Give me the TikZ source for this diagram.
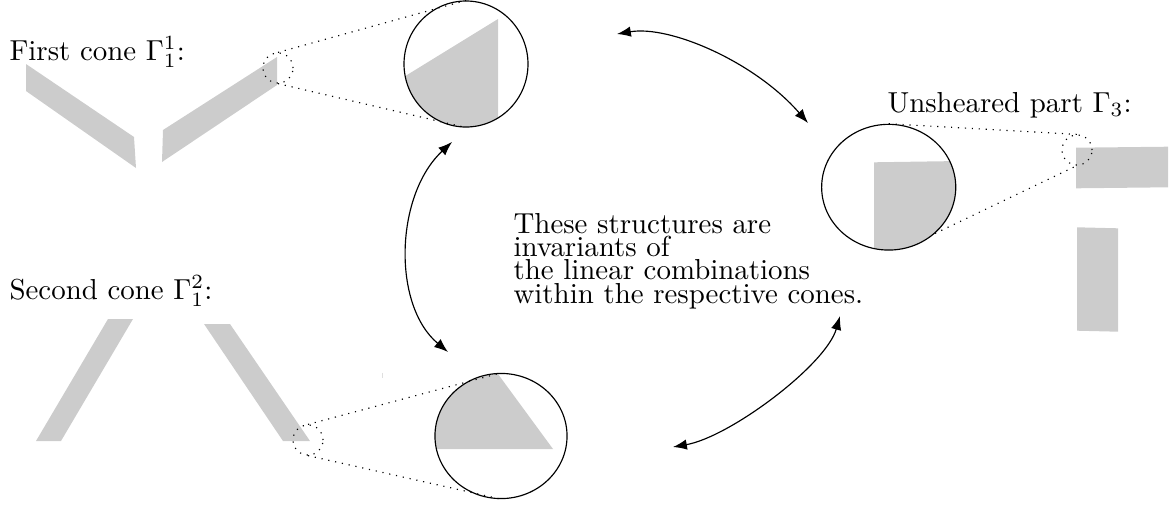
\documentclass[tikz,border=0pt]{standalone}
\usetikzlibrary{arrows.meta,shapes.geometric}
\begin{document}
\begin{tikzpicture}[x=0.346pt,y=-0.346pt,
  shade/.style={fill=gray!40,draw=none},
  lens/.style={draw,ellipse,inner sep=0pt},
  spot/.style={draw,circle,dotted,inner sep=0pt,minimum size=10.4pt},
  guide/.style={dotted},
  link/.style={{Latex}-{Latex}},
  lbl/.style={inner sep=0pt,font=\fontsize{10}{12}\selectfont}]
\useasboundingbox (0,0) rectangle (1172,504);

% ---- first cone ----
\fill[shade] (26,64) -- (134,137) -- (136,168) -- (26,91) -- cycle;
\fill[shade] (163,130) -- (277,57) -- (277,85) -- (162,162) -- cycle;
% ---- second cone ----
\fill[shade] (108,319) -- (133,319) -- (61,441) -- (36,441) -- cycle;
\fill[shade] (204,324) -- (230,324) -- (310,441) -- (283,441) -- cycle;
% ---- unsheared part ----
\fill[shade] (1076,147.7) -- (1168,146.7) -- (1168,187.3) -- (1076,188.3) -- cycle;
\fill[shade] (1077,227.3) -- (1118,228.3) -- (1118,331.7) -- (1077,330.7) -- cycle;
\draw[gray!25,line width=0.5pt] (382.7,372.7) -- (382.7,378.3);

% ---- magnified contents ----
\begin{scope}
  \clip (466,64) ellipse [x radius=62, y radius=63];
  \fill[shade] (498,19) -- (498,140) -- (380,140) -- (380,91.6) -- cycle;
\end{scope}
\begin{scope}
  \clip (501,436) ellipse [x radius=66, y radius=62.5];
  \fill[shade] (420,360) -- (487.7,360) -- (553,449) -- (420,449) -- cycle;
\end{scope}
\begin{scope}
  \clip (888.7,187.2) ellipse [x radius=67, y radius=62.8];
  \fill[shade] (874,162.3) -- (960,161) -- (960,260) -- (874,260) -- cycle;
\end{scope}

% ---- lenses ----
\node[lens,minimum width=42.9pt,minimum height=43.6pt] (z1) at (466,64) {};
\node[lens,minimum width=45.7pt,minimum height=43.3pt] (z2) at (501,436) {};
\node[lens,minimum width=46.4pt,minimum height=43.5pt] (z3) at (888.7,187.2) {};

\node[spot] (s1) at (278,68) {};
\node[spot] (s2) at (308,440) {};
\node[spot] (s3) at (1077,150) {};

\draw[guide] (s1.north) -- (z1.north);
\draw[guide] (s1.south) -- (z1.south);
\draw[guide] (s2.north) -- (z2.north);
\draw[guide] (s2.south) -- (z2.south);
\draw[guide] (z3.north) -- (s3.north);
\draw[guide] (z3.-45) -- (s3.south);

% ---- labels ----
\node[lbl,anchor=base west] (t1) at (9,60) {First cone $\Gamma_1^1$:};
\node[lbl,anchor=base west] (t2) at (9,299) {Second cone $\Gamma_1^2$:};
\node[lbl,anchor=base west] (t3) at (887,112) {Unsheared part $\Gamma_3$:};
\node[lbl,anchor=north west,align=left,font=\fontsize{10}{8}\selectfont] (t4) at (513,213)
  {These structures are\\invariants of\\the linear combinations\\within the respective cones.};

% ---- arrows ----
\coordinate (a1s) at (617,34);
\coordinate (a1e) at (808,123);
\coordinate (a2s) at (452,142);
\coordinate (a2e) at (448,352);
\coordinate (a3s) at (673,447);
\coordinate (a3e) at (840,316);
\draw[link] (a1s) .. controls (670,25) and (755,62) .. (a1e);
\draw[link] (a2s) .. controls (395,195) and (392,305) .. (a2e);
\draw[link] (a3s) .. controls (730,437) and (826,365) .. (a3e);
\end{tikzpicture}
\end{document}
